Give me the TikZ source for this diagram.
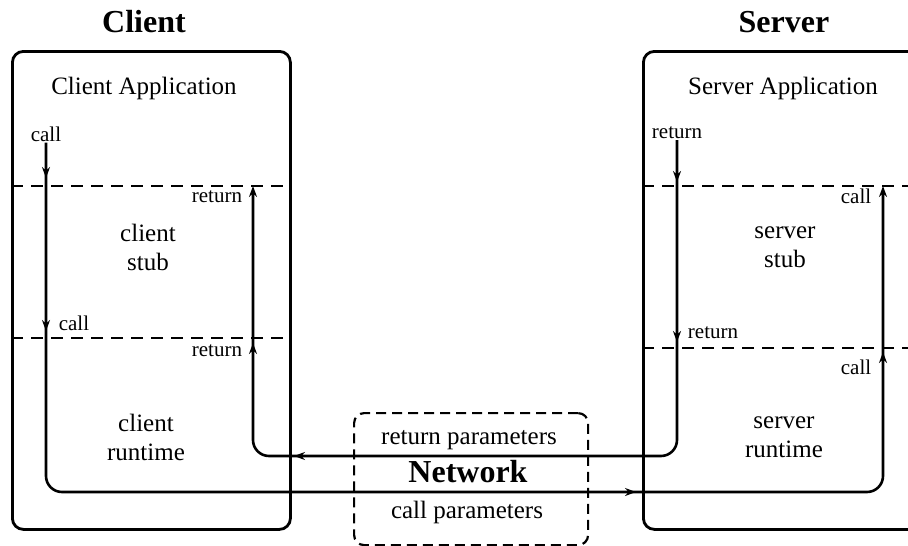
\documentclass[tikz,border=0pt]{standalone}
\usepackage{fontspec}
\setmainfont{Liberation Serif}
\usetikzlibrary{arrows.meta}
\begin{document}
\begin{tikzpicture}[x=1pt,y=-1pt,
  box/.style={draw, line width=2.8pt, rounded corners=11pt, inner sep=0pt},
  netbox/.style={draw, line width=2.2pt, dash pattern=on 10pt off 6pt, rounded corners=10pt, inner sep=0pt},
  divider/.style={line width=2.6pt, dash pattern=on 12pt off 8pt},
  flow/.style={line width=2.6pt, rounded corners=16pt},
  tip/.style={line width=2.6pt, -{Stealth[length=11pt,width=8pt]}},
  title/.style={font=\fontsize{32}{38}\selectfont\bfseries, inner sep=0pt},
  txt/.style={font=\fontsize{25}{29}\selectfont, align=center, inner sep=0pt},
  small/.style={font=\fontsize{21}{24}\selectfont, inner sep=1pt},
]
\useasboundingbox (0,0) rectangle (908,546);
\clip (0,0) rectangle (908,546);

% titles
\node[title] (tclient) at (144,22) {Client};
\node[title] (tserver) at (784,22) {Server};

% the two hosts and the network
\node[box, anchor=north west, minimum width=278pt, minimum height=478pt] (clibox) at (11,50) {};
\node[box, anchor=north west, minimum width=290pt, minimum height=478pt] (srvbox) at (642,50) {};
\node[netbox, anchor=north west, minimum width=234pt, minimum height=132pt] (netbox) at (353,412) {};

% layer boundaries
\coordinate (cy1) at (0,186);
\coordinate (cy2) at (0,338);
\coordinate (sy1) at (0,186);
\coordinate (sy2) at (0,348);
\draw[divider] (clibox.west |- cy1) -- (clibox.east |- cy1);
\draw[divider] (clibox.west |- cy2) -- (clibox.east |- cy2);
\draw[divider] (srvbox.west |- sy1) -- (908,186);
\draw[divider] (srvbox.west |- sy2) -- (908,348);

% layer names
\node[txt] (capp) at (144,88) {Client Application};
\node[txt] (sapp) at (783,88) {Server Application};
\node[txt] (cstub) at (148,247) {client\\stub};
\node[txt] (crun) at (146,437) {client\\runtime};
\node[txt] (sstub) at (785,247) {server\\stub};
\node[txt] (srun) at (784,437) {server\\runtime};

% network texts
\node[txt] (retpar) at (469,440) {return parameters};
\node[title] (net) at (468,472) {Network};
\node[txt] (callpar) at (467,512) {call parameters};

% call / return labels
\node[small] (callA) at (46,134) {call};
\node[small] (callB) at (74,323) {call};
\node[small] (retA) at (217,197) {return};
\node[small] (retB) at (217,351) {return};
\node[small] (retC) at (677,133) {return};
\node[small] (retD) at (713,333) {return};
\node[small] (callC) at (856,196) {call};
\node[small] (callD) at (856,367) {call};

% call path: client application -> server application
\coordinate (callL) at (46,492);
\coordinate (callR) at (883,492);
\coordinate (callEnd) at (883,186);
\draw[flow, -{Stealth[length=11pt,width=8pt]}] (callA.south) -- (callL) -- (callR) -- (callEnd);

% return path: server application -> client application
\coordinate (retR) at (677,456);
\coordinate (retL) at (253,456);
\coordinate (retEnd) at (253,186);
\draw[flow, -{Stealth[length=11pt,width=8pt]}] (retC.south) -- (retR) -- (retL) -- (retEnd);

% direction marks along the paths
\draw[tip] (46,165) -- (46,178);
\draw[tip] (46,318) -- (46,331);
\draw[tip] (253,356) -- (253,343);
\draw[tip] (307,456) -- (294,456);
\draw[tip] (623,492) -- (636,492);
\draw[tip] (677,169) -- (677,182);
\draw[tip] (677,329) -- (677,342);
\draw[tip] (883,365) -- (883,352);
\end{tikzpicture}
\end{document}
